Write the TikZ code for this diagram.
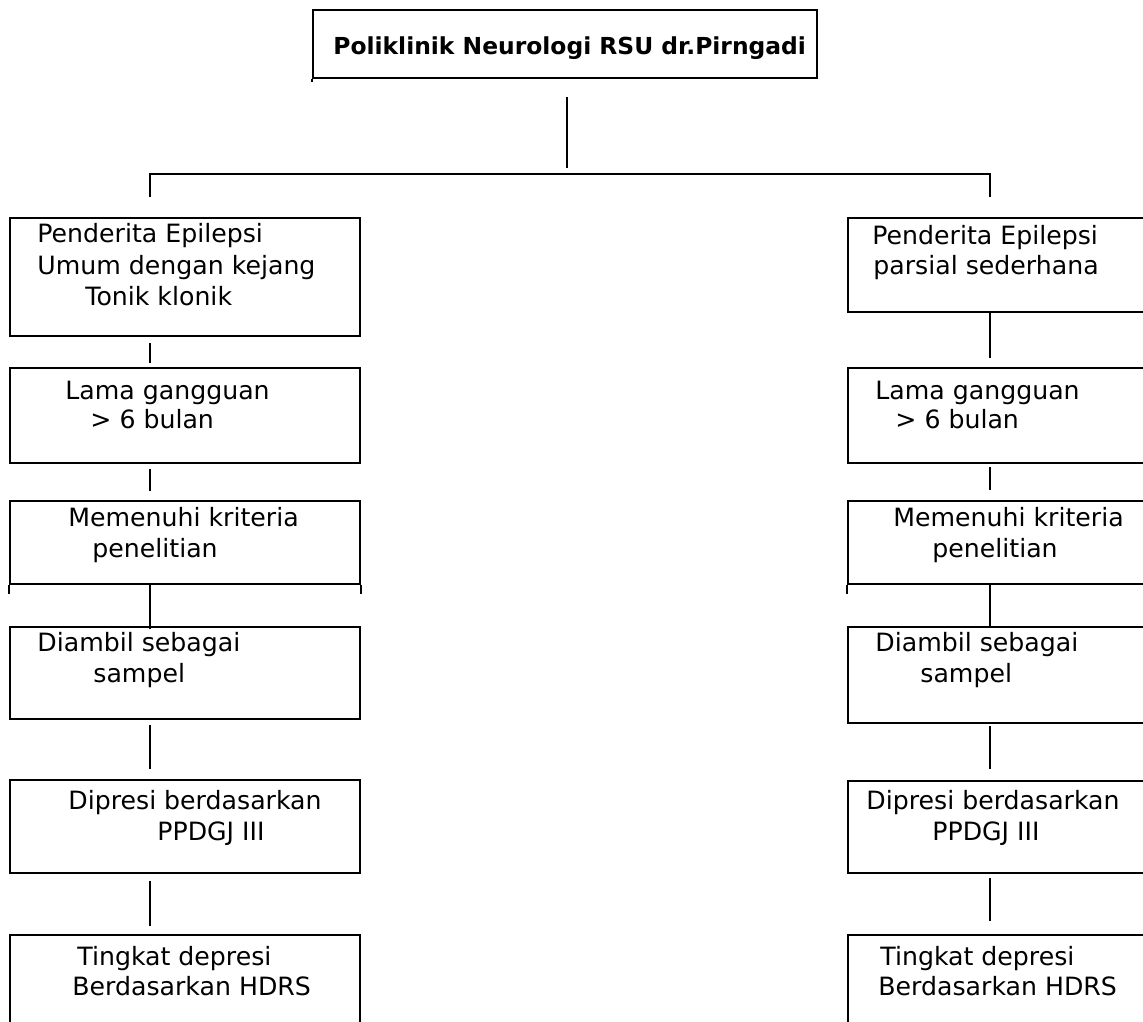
\documentclass[tikz,border=0pt]{standalone}
\usepackage{fontspec}
\setmainfont{DejaVu Sans}
\usetikzlibrary{fit,calc}
\begin{document}
\begin{tikzpicture}[x=0.5pt,y=-0.5pt,
  box/.style={draw, line width=0.9pt, inner sep=0pt},
  lbl/.style={anchor=base west, inner sep=0pt, font=\fontsize{12.6}{15}\selectfont},
  conn/.style={line width=0.9pt}]
\useasboundingbox (0,0) rectangle (1143,1021);
\clip (0,0) rectangle (1143,1021);
% top box
\node[box, fit={(313,10) (817,78)}] (T) {};
\draw[conn] (T.south west) -- ++(0,3);
\node[lbl, font=\fontsize{11.7}{14}\selectfont\bfseries] (tT) at (333,55) {Poliklinik Neurologi RSU dr.Pirngadi};
% column coordinates
\coordinate (cT) at (567,0);
\coordinate (hL) at (150,174);
\coordinate (hR) at (990,174);
\coordinate (cL) at (150,0);
\coordinate (cR) at (990,0);
% left boxes
\node[box, fit={(10,218) (360,336)}] (L1) {};
\node[box, fit={(10,368) (360,463)}] (L2) {};
\node[box, fit={(10,501) (360,584)}] (L3) {};
\draw[conn] (L3.south west) -- ++(0,9);
\draw[conn] (L3.south east) -- ++(0,9);
\node[box, fit={(10,627) (360,719)}] (L4) {};
\node[box, fit={(10,780) (360,873)}] (L5) {};
\node[box, fit={(10,935) (360,1040)}] (L6) {};
% right boxes
\node[box, fit={(848,218) (1160,312)}] (R1) {};
\node[box, fit={(848,368) (1160,463)}] (R2) {};
\node[box, fit={(848,501) (1160,584)}] (R3) {};
\draw[conn] (R3.south west) -- ++(0,9);
\node[box, fit={(848,627) (1160,723)}] (R4) {};
\node[box, fit={(848,781) (1160,873)}] (R5) {};
\node[box, fit={(848,935) (1160,1040)}] (R6) {};
% top connectors
\draw[conn] ($(T.south -| cT)+(0,18)$) -- ($(T.south -| cT)+(0,89)$);
\draw[conn] ($(L1.north -| hL)+(0,-20)$) -- (hL) -- (hR) -- ($(R1.north -| hR)+(0,-20)$);
% left connectors
\draw[conn] ($(L1.south -| cL)+(0,6)$) -- ($(L2.north -| cL)+(0,-4)$);
\draw[conn] ($(L2.south -| cL)+(0,5)$) -- ($(L3.north -| cL)+(0,-9)$);
\draw[conn] (L3.south -| cL) -- ($(L4.north -| cL)+(0,3)$);
\draw[conn] ($(L4.south -| cL)+(0,5)$) -- ($(L5.north -| cL)+(0,-10)$);
\draw[conn] ($(L5.south -| cL)+(0,7)$) -- ($(L6.north -| cL)+(0,-8)$);
% right connectors
\draw[conn] (R1.south -| cR) -- ($(R2.north -| cR)+(0,-9)$);
\draw[conn] ($(R2.south -| cR)+(0,3)$) -- ($(R3.north -| cR)+(0,-10)$);
\draw[conn] (R3.south -| cR) -- ($(R4.north -| cR)+(0,1)$);
\draw[conn] ($(R4.south -| cR)+(0,2)$) -- ($(R5.north -| cR)+(0,-11)$);
\draw[conn] ($(R5.south -| cR)+(0,4)$) -- ($(R6.north -| cR)+(0,-13)$);
% left texts
\node[lbl] (l1a) at (37,243) {Penderita Epilepsi};
\node[lbl] (l1b) at (37,275) {Umum dengan kejang};
\node[lbl] (l1c) at (85,306) {Tonik klonik};
\node[lbl] (l2a) at (65,399) {Lama gangguan};
\node[lbl] (l2b) at (90,428) {> 6 bulan};
\node[lbl] (l3a) at (68,526) {Memenuhi kriteria};
\node[lbl] (l3b) at (92,557) {penelitian};
\node[lbl] (l4a) at (37,651) {Diambil sebagai};
\node[lbl] (l4b) at (93,682) {sampel};
\node[lbl] (l5a) at (68,809) {Dipresi berdasarkan};
\node[lbl] (l5b) at (157,840) {PPDGJ III};
\node[lbl] (l6a) at (77,965) {Tingkat depresi};
\node[lbl] (l6b) at (72,995) {Berdasarkan HDRS};
% right texts
\node[lbl] (r1a) at (872,245) {Penderita Epilepsi};
\node[lbl] (r1b) at (873,275) {parsial sederhana};
\node[lbl] (r2a) at (875,399) {Lama gangguan};
\node[lbl] (r2b) at (895,428) {> 6 bulan};
\node[lbl] (r3a) at (893,526) {Memenuhi kriteria};
\node[lbl] (r3b) at (932,557) {penelitian};
\node[lbl] (r4a) at (875,651) {Diambil sebagai};
\node[lbl] (r4b) at (920,682) {sampel};
\node[lbl] (r5a) at (866,809) {Dipresi berdasarkan};
\node[lbl] (r5b) at (932,840) {PPDGJ III};
\node[lbl] (r6a) at (880,965) {Tingkat depresi};
\node[lbl] (r6b) at (878,995) {Berdasarkan HDRS};
\end{tikzpicture}
\end{document}
